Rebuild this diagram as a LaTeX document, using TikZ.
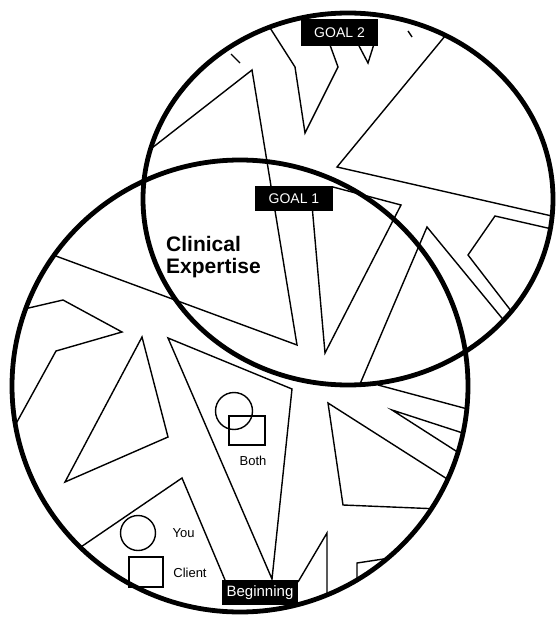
\documentclass[tikz,border=0pt]{standalone}
\usepackage{fontspec}
\setmainfont{Liberation Sans}
\begin{document}
\tikzset{
  boldring/.style={line width=4.8pt},
  thinline/.style={line width=1.4pt, line join=miter},
  shapeline/.style={line width=1.4pt},
  tag/.style={fill=black, text=white, inner sep=0pt, font=\fontsize{14}{16}\selectfont},
  smalllabel/.style={inner sep=0pt, font=\fontsize{13}{15}\selectfont},
  biglabel/.style={inner sep=0pt, align=left, font=\fontsize{21}{22.5}\selectfont\bfseries},
}
\begin{tikzpicture}[x=1pt,y=-1pt]
\useasboundingbox (0,0) rectangle (555,620);
% ring centres
\coordinate (cu) at (348,199);
\coordinate (cl) at (240,386);
\begin{scope}
  \clip (cu) ellipse [x radius=205pt, y radius=186pt]
        (cl) ellipse [x radius=228pt, y radius=226pt];
  % upper region
  \draw[thinline] (45,252) -- (297,345) -- (252,70) -- (143,155);
  \draw[thinline] (265,20) -- (295,67) -- (305,133) -- (338,67) -- (330,45);
  \draw[thinline] (358,44) -- (368,63) -- (374,44);
  \draw[thinline] (450,30) -- (337,167) -- (565,219);
  \draw[thinline] (333,187) -- (401,205) -- (325,353) -- (312,205);
  \draw[thinline] (360,384) -- (427,227) -- (515,334);
  \draw[thinline] (565,232) -- (495,216) -- (468,255) -- (525,329);
  \draw[thinline] (231,54) -- (240,63);
  \draw[thinline] (408,31) -- (412,37);
  % lower region
  \draw[thinline] (20,310) -- (63,300) -- (122,332) -- (56,351) -- (12,431);
  \draw[thinline] (142,337) -- (168,437) -- (65,482) -- cycle;
  \draw[thinline] (168,338) -- (292,389) -- (272,579) -- cycle;
  \draw[thinline] (75,551) -- (182,478) -- (225,580);
  \draw[thinline] (298,582) -- (327,533) -- (327,600);
  \draw[thinline] (357,590) -- (357,563) -- (390,558);
  \draw[thinline] (455,484) -- (328,403) -- (343,505) -- (440,509);
  \draw[thinline] (470,460) -- (392,410) -- (475,437);
  \draw[thinline] (378,385) -- (475,411);
\end{scope}
\draw[boldring] (cu) ellipse [x radius=205pt, y radius=186pt];
\draw[boldring] (cl) ellipse [x radius=228pt, y radius=226pt];
% labels
\node[tag, minimum width=77pt, minimum height=27pt] (goal2) at (339.5,32.5) {GOAL 2};
\node[tag, minimum width=78pt, minimum height=25pt] (goal1) at (294,198.5) {GOAL 1};
\node[tag, minimum width=76pt, minimum height=25pt, font=\fontsize{15}{17}\selectfont] (begin) at (260,592.5) {Beginning};
\node[biglabel, anchor=north west] (expertise) at (166,236) {Clinical\\Expertise};
% legend figures
\draw[shapeline] (234,411) circle [radius=18.5pt];
\draw[shapeline] (229,416) rectangle (265,445);
\node[smalllabel] (both) at (253,461) {Both};
\draw[shapeline] (138,533) circle [radius=17.5pt];
\draw[shapeline] (129,557) rectangle (163,587);
\node[smalllabel] (you) at (183.5,533.5) {You};
\node[smalllabel] (client) at (190,572.5) {Client};
\end{tikzpicture}
\end{document}
